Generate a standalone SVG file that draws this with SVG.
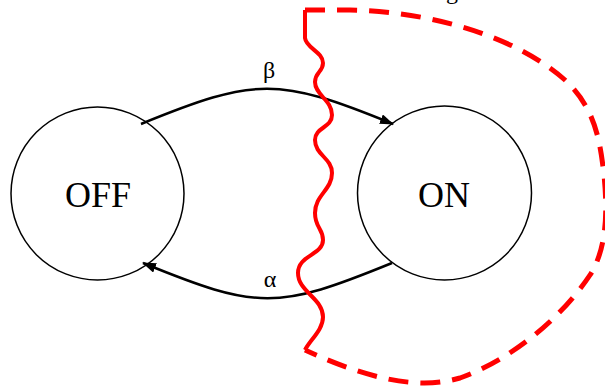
<svg xmlns="http://www.w3.org/2000/svg" width="605" height="390" viewBox="0 0 605 390">
<style>
.node{fill:#fff;stroke:#000;stroke-width:1.5}
.lbl{font-family:"Liberation Serif","Times New Roman",serif;fill:#000;text-anchor:middle}
.edge{fill:none;stroke:#000;stroke-width:2.5}
.red{fill:none;stroke:#ff0000;stroke-linecap:butt;stroke-linejoin:miter}
</style>
<defs>
<marker id="arr" markerUnits="userSpaceOnUse" markerWidth="14" markerHeight="10" refX="13" refY="5" orient="auto">
<path d="M0,0 L14,5 L0,10 z" fill="#000"/>
</marker>
</defs>
<rect width="605" height="390" fill="#fff"/>
<text class="lbl" x="452" y="-1" font-size="24">g</text>
<g id="off">
<circle class="node" cx="97.5" cy="193.5" r="86.5"/>
<text class="lbl" x="98" y="207" font-size="36">OFF</text>
</g>
<g id="on">
<circle class="node" cx="444.5" cy="193" r="87"/>
<text class="lbl" x="444" y="207" font-size="36">ON</text>
</g>
<g id="connectors">
<path class="edge" d="M141,124 C256,77 278,77 393,124" marker-end="url(#arr)"/>
<text class="lbl" x="269" y="78" font-size="24">β</text>
<path class="edge" d="M392,263 C277,310 258,310 143,263" marker-end="url(#arr)"/>
<text class="lbl" x="270" y="287" font-size="24">α</text>
</g>
<g id="boundary">
<path class="red" stroke-width="4" d="M305,10 L305,38 C306,48 323,52 323,63 C323,72 315,72 315,82 C315,95 332,100 332,115 C332,128 315,127 315,140 C315,155 332,158 332,173 C332,190 315,195 315,213 C315,228 323,228 323,240 C323,255 298,255 298,273 C298,292 323,298 323,317 C323,330 310,340 305,350"/>
<path class="red" stroke-width="5" stroke-dasharray="20 12" d="M305,10 L350,10 C440,12 520,40 565,80 C595,108 600,140 604,175 C608,215 606,250 590,275 C560,320 510,360 460,378 C420,390 370,380 305,350"/>
</g>
</svg>
